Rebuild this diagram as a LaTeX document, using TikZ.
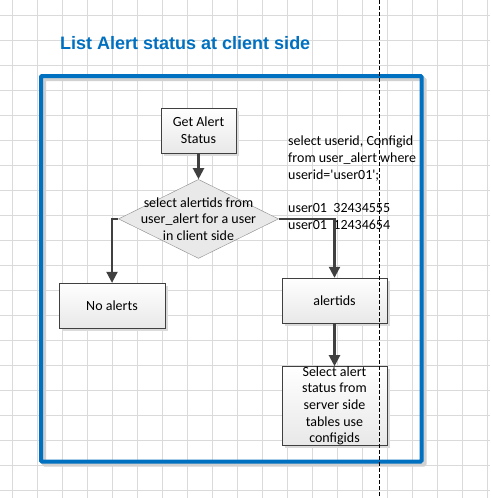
\documentclass[tikz,border=0pt]{standalone}
\usepackage{fontspec}
\setmainfont{Carlito}[Ligatures=TeXOff]
\newfontfamily\titlefont{Liberation Sans}
\usetikzlibrary{positioning,arrows.meta,shapes.geometric,shadows}
\definecolor{frameblue}{RGB}{0,112,192}
\definecolor{gridgray}{RGB}{218,218,218}
\definecolor{linegray}{RGB}{64,64,64}
\definecolor{diafill}{RGB}{233,233,233}

\begin{document}
\begin{tikzpicture}[x=1pt,y=-1pt,font=\fontsize{14}{16.7}\selectfont,
    box/.style={draw=linegray,rectangle,top color=white,bottom color=black!9,drop shadow={shadow xshift=3pt,shadow yshift=-3pt,fill=black!14,opacity=1},align=center},
    flow/.style={line width=2.1pt,draw=linegray,-{Triangle[width=11pt,length=11pt]}}]
        \fill[white] (0,0) rectangle (490,498);
        \useasboundingbox (0,0) rectangle (490,498);
        \foreach \x in {12,37,...,487} \draw[gridgray,line width=0.8pt] (\x,0) -- (\x,498);
        \foreach \y in {15,40,...,490} \draw[gridgray,line width=0.8pt] (0,\y) -- (490,\y);
        \node[anchor=base west,inner sep=0pt,text=frameblue,font=\titlefont\bfseries\fontsize{18}{20}\selectfont] (T) at (60,49.5) {List Alert status at client side};
        \draw[black!18,line width=4pt,rounded corners=1pt] (44,79) rectangle (424.5,464.5);
        \draw[frameblue,line width=4pt,rounded corners=1pt] (41,76) rectangle (421.5,461.5);
        \node[box,minimum width=75pt,minimum height=45pt] (A) at (198.5,130.5) {Get Alert\\Status};
        \node[diamond,draw=black!45,fill=diafill,minimum width=160pt,minimum height=79pt,inner sep=0pt,below=26pt of A] (B) {};
        \node[align=center,inner sep=0pt] (Btext) at (B) {select alertids from\\user\_alert for a user\\in client side};
        \node[box,minimum width=106pt,minimum height=45pt] (C) at (112,305.5) {No alerts};
        \node[box,minimum width=105pt,minimum height=45pt] (D) at (334.5,300.5) {alertids};
        \node[box,minimum width=105pt,minimum height=79pt,inner ysep=0pt,below=43pt of D] (E) {Select alert\\status from\\server side\\tables use\\configids};
        \node[align=left,anchor=north west,inner sep=0pt] (Q) at (288,136) {select userid, Configid\\from user\_alert where\\userid='user01';\\[16.7pt]user01\ \ 32434555\\user01\ \ 12434654};
        \draw[flow] (A) -- (B);
        \draw[flow] (B.west) -| (C.north);
        \draw[flow] (B.east) -| (D.north);
        \draw[flow] (D) -- (E);
        \draw[black,line width=0.8pt,dash pattern=on 4pt off 2pt] (379,0) -- (379,498);
      \end{tikzpicture}
\end{document}
